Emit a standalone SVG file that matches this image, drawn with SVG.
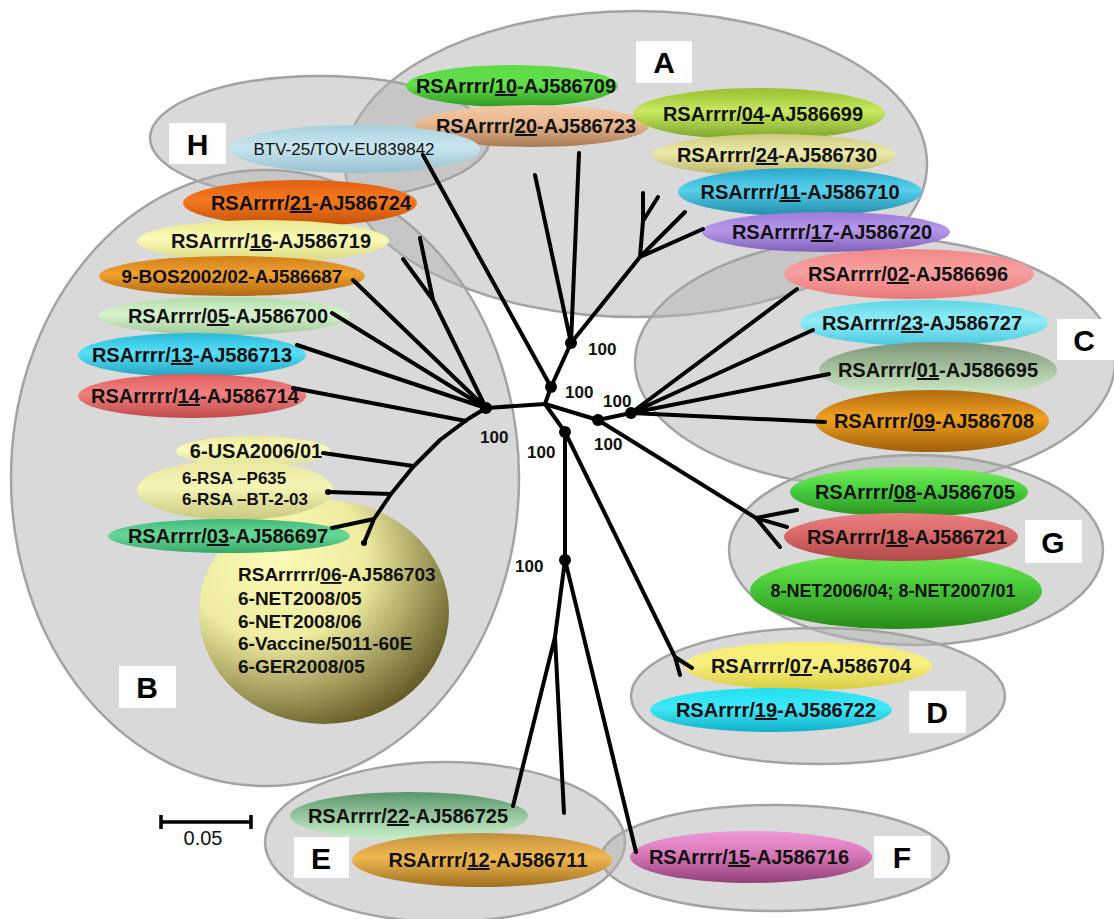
<svg xmlns="http://www.w3.org/2000/svg" width="1114" height="919" viewBox="0 0 1114 919">
<style>
.cl{fill:#b3b3b3;fill-opacity:.5;stroke:#a3a3a3;stroke-width:2.5}
.bx{fill:#fff}
.lt{font-family:"Liberation Sans",Arial,sans-serif;font-weight:bold;font-size:30px;text-anchor:middle;fill:#000}
.t{font-family:"Liberation Sans",Arial,sans-serif;font-weight:bold;font-size:20px;text-anchor:middle;fill:#111}
.tl{text-anchor:start}
.u{text-decoration:underline}
.br{fill:none;stroke:#000;stroke-width:4;stroke-linecap:round;stroke-linejoin:round}
.bs{font-family:"Liberation Sans",Arial,sans-serif;font-weight:bold;font-size:17px;fill:#111}
.sc{font-family:"Liberation Sans",Arial,sans-serif;font-size:20px;text-anchor:middle;fill:#111}
</style>
<defs>
<linearGradient id="g10" x1="0" y1="0" x2="0" y2="1"><stop offset="0" stop-color="#5fd848"/><stop offset=".45" stop-color="#62e04a"/><stop offset="1" stop-color="#2f9a22"/></linearGradient>
<linearGradient id="g20" x1="0" y1="0" x2="0" y2="1"><stop offset="0" stop-color="#f2c8a4"/><stop offset=".45" stop-color="#e8b890"/><stop offset="1" stop-color="#a87850"/></linearGradient>
<linearGradient id="g04" x1="0" y1="0" x2="0" y2="1"><stop offset="0" stop-color="#98c030"/><stop offset=".45" stop-color="#c8e860"/><stop offset="1" stop-color="#7aa028"/></linearGradient>
<linearGradient id="g24" x1="0" y1="0" x2="0" y2="1"><stop offset="0" stop-color="#cfca80"/><stop offset=".45" stop-color="#ecebaa"/><stop offset="1" stop-color="#b8b068"/></linearGradient>
<linearGradient id="g11" x1="0" y1="0" x2="0" y2="1"><stop offset="0" stop-color="#2aa8cc"/><stop offset=".45" stop-color="#58d0ec"/><stop offset="1" stop-color="#1f8aa8"/></linearGradient>
<linearGradient id="g17" x1="0" y1="0" x2="0" y2="1"><stop offset="0" stop-color="#9c7cd8"/><stop offset=".45" stop-color="#b898ec"/><stop offset="1" stop-color="#8060b8"/></linearGradient>
<linearGradient id="gbt" x1="0" y1="0" x2="0" y2="1"><stop offset="0" stop-color="#a8d0e0"/><stop offset=".45" stop-color="#c8e6ef"/><stop offset="1" stop-color="#98c0d0"/></linearGradient>
<linearGradient id="g21" x1="0" y1="0" x2="0" y2="1"><stop offset="0" stop-color="#e06010"/><stop offset=".45" stop-color="#f47820"/><stop offset="1" stop-color="#c05008"/></linearGradient>
<linearGradient id="g16" x1="0" y1="0" x2="0" y2="1"><stop offset="0" stop-color="#e8e890"/><stop offset=".45" stop-color="#fafab8"/><stop offset="1" stop-color="#d8d880"/></linearGradient>
<linearGradient id="g9" x1="0" y1="0" x2="0" y2="1"><stop offset="0" stop-color="#d08018"/><stop offset=".45" stop-color="#f0a030"/><stop offset="1" stop-color="#b06810"/></linearGradient>
<linearGradient id="g05" x1="0" y1="0" x2="0" y2="1"><stop offset="0" stop-color="#b0dca8"/><stop offset=".45" stop-color="#d8f4d0"/><stop offset="1" stop-color="#a0c898"/></linearGradient>
<linearGradient id="g13" x1="0" y1="0" x2="0" y2="1"><stop offset="0" stop-color="#28b8d8"/><stop offset=".45" stop-color="#58e0f8"/><stop offset="1" stop-color="#20a0c0"/></linearGradient>
<linearGradient id="g14" x1="0" y1="0" x2="0" y2="1"><stop offset="0" stop-color="#e06060"/><stop offset=".45" stop-color="#f08080"/><stop offset="1" stop-color="#c04848"/></linearGradient>
<linearGradient id="gus" x1="0" y1="0" x2="0" y2="1"><stop offset="0" stop-color="#ecec98"/><stop offset=".45" stop-color="#fafabc"/><stop offset="1" stop-color="#e0e090"/></linearGradient>
<linearGradient id="grs" x1="0" y1="0" x2="0" y2="1"><stop offset="0" stop-color="#e8e8a0"/><stop offset=".45" stop-color="#f4f4b4"/><stop offset="1" stop-color="#c8c880"/></linearGradient>
<linearGradient id="g03" x1="0" y1="0" x2="0" y2="1"><stop offset="0" stop-color="#40b878"/><stop offset=".45" stop-color="#68d898"/><stop offset="1" stop-color="#38a868"/></linearGradient>
<linearGradient id="g02" x1="0" y1="0" x2="0" y2="1"><stop offset="0" stop-color="#f08888"/><stop offset=".45" stop-color="#f8a0a0"/><stop offset="1" stop-color="#e87878"/></linearGradient>
<linearGradient id="g23" x1="0" y1="0" x2="0" y2="1"><stop offset="0" stop-color="#60d8e8"/><stop offset=".45" stop-color="#90ecf4"/><stop offset="1" stop-color="#48c8e0"/></linearGradient>
<linearGradient id="g01" x1="0" y1="0" x2="0" y2="1"><stop offset="0" stop-color="#7e9478"/><stop offset=".5" stop-color="#a8c4a0"/><stop offset="1" stop-color="#d0ecc8"/></linearGradient>
<linearGradient id="g09" x1="0" y1="0" x2="0" y2="1"><stop offset="0" stop-color="#b06a10"/><stop offset=".45" stop-color="#f0a020"/><stop offset="1" stop-color="#a06008"/></linearGradient>
<linearGradient id="g08" x1="0" y1="0" x2="0" y2="1"><stop offset="0" stop-color="#78f058"/><stop offset=".45" stop-color="#48d040"/><stop offset="1" stop-color="#2a9020"/></linearGradient>
<linearGradient id="g18" x1="0" y1="0" x2="0" y2="1"><stop offset="0" stop-color="#e88080"/><stop offset=".45" stop-color="#d86868"/><stop offset="1" stop-color="#b04848"/></linearGradient>
<linearGradient id="gnt" x1="0" y1="0" x2="0" y2="1"><stop offset="0" stop-color="#70e850"/><stop offset=".45" stop-color="#48c838"/><stop offset="1" stop-color="#2a8a18"/></linearGradient>
<linearGradient id="g07" x1="0" y1="0" x2="0" y2="1"><stop offset="0" stop-color="#f4ec70"/><stop offset=".45" stop-color="#f8f080"/><stop offset="1" stop-color="#d8cc40"/></linearGradient>
<linearGradient id="g19" x1="0" y1="0" x2="0" y2="1"><stop offset="0" stop-color="#20e0f0"/><stop offset=".45" stop-color="#40e8f8"/><stop offset="1" stop-color="#10b0c8"/></linearGradient>
<linearGradient id="g22" x1="0" y1="0" x2="0" y2="1"><stop offset="0" stop-color="#5a9468"/><stop offset=".5" stop-color="#98c8a0"/><stop offset="1" stop-color="#c8f0c8"/></linearGradient>
<linearGradient id="g12" x1="0" y1="0" x2="0" y2="1"><stop offset="0" stop-color="#c09040"/><stop offset=".45" stop-color="#f0b850"/><stop offset="1" stop-color="#a07020"/></linearGradient>
<linearGradient id="g15" x1="0" y1="0" x2="0" y2="1"><stop offset="0" stop-color="#f098d8"/><stop offset=".45" stop-color="#d878b8"/><stop offset="1" stop-color="#904078"/></linearGradient>
<radialGradient id="g06" cx=".32" cy=".28" r=".8" fx=".3" fy=".25"><stop offset="0" stop-color="#fbfbb8"/><stop offset=".45" stop-color="#eeeca0"/><stop offset="1" stop-color="#5e5520"/></radialGradient>
</defs>

<g id="clusters">
<g id="cluster-A"><ellipse class="cl" cx="636" cy="164" rx="291" ry="153"/><rect class="bx" x="636" y="41" width="56" height="42"/><text class="lt" x="664" y="73">A</text></g>
<g id="cluster-H"><ellipse class="cl" cx="320" cy="138" rx="170" ry="62"/><rect class="bx" x="169" y="123" width="57" height="41"/><text class="lt" x="197.5" y="155">H</text></g>
<g id="cluster-B"><ellipse class="cl" cx="265" cy="478" rx="254" ry="308"/><rect class="bx" x="119" y="666" width="57" height="42"/><text class="lt" x="147" y="698">B</text></g>
<g id="cluster-C"><ellipse class="cl" cx="875" cy="362" rx="240" ry="125"/><rect class="bx" x="1057" y="319" width="57" height="41"/><text class="lt" x="1084" y="351">C</text></g>
<g id="cluster-G"><ellipse class="cl" cx="916" cy="550" rx="187" ry="95"/><rect class="bx" x="1025" y="520" width="57" height="43"/><text class="lt" x="1053" y="553">G</text></g>
<g id="cluster-D"><ellipse class="cl" cx="818" cy="696" rx="187" ry="68"/><rect class="bx" x="909" y="691" width="57" height="42"/><text class="lt" x="937" y="723">D</text></g>
<g id="cluster-E"><ellipse class="cl" cx="445" cy="842" rx="180" ry="80"/><rect class="bx" x="294" y="837" width="55" height="41"/><text class="lt" x="321" y="869">E</text></g>
<g id="cluster-F"><ellipse class="cl" cx="775" cy="858" rx="174" ry="53"/><rect class="bx" x="874" y="836" width="57" height="42"/><text class="lt" x="902" y="868">F</text></g>
</g>

<g id="leaves">
<g id="n10"><ellipse cx="512" cy="86" rx="106" ry="21" fill="url(#g10)"/><text class="t" x="516" y="93">RSArrrr/<tspan class="u">10</tspan>-AJ586709</text></g>
<g id="n20"><ellipse cx="532" cy="126" rx="117" ry="21" fill="url(#g20)"/><text class="t" x="536" y="133">RSArrrr/<tspan class="u">20</tspan>-AJ586723</text></g>
<g id="n04"><ellipse cx="759" cy="114" rx="126" ry="26" fill="url(#g04)"/><text class="t" x="763" y="121">RSArrrr/<tspan class="u">04</tspan>-AJ586699</text></g>
<g id="n24"><ellipse cx="774" cy="155" rx="122" ry="21" fill="url(#g24)"/><text class="t" x="777" y="162">RSArrrr/<tspan class="u">24</tspan>-AJ586730</text></g>
<g id="n11"><ellipse cx="800" cy="192" rx="122" ry="24" fill="url(#g11)"/><text class="t" x="800" y="199">RSArrrr/<tspan class="u">11</tspan>-AJ586710</text></g>
<g id="n17"><ellipse cx="826" cy="232" rx="124" ry="20" fill="url(#g17)"/><text class="t" x="832" y="239">RSArrrr/<tspan class="u">17</tspan>-AJ586720</text></g>
<g id="nBTV"><ellipse cx="355" cy="149" rx="125" ry="24" fill="url(#gbt)"/><text class="t" x="344" y="155" style="font-weight:normal;font-size:17px">BTV-25/TOV-EU839842</text></g>
<g id="n21"><ellipse cx="300" cy="203" rx="117" ry="23" fill="url(#g21)"/><text class="t" x="311" y="210">RSArrrr/<tspan class="u">21</tspan>-AJ586724</text></g>
<g id="n16"><ellipse cx="263" cy="241" rx="126" ry="21" fill="url(#g16)"/><text class="t" x="271" y="248">RSArrrr/<tspan class="u">16</tspan>-AJ586719</text></g>
<g id="n9BOS"><ellipse cx="232" cy="276" rx="133" ry="20" fill="url(#g9)"/><text class="t" x="232" y="283" style="font-size:19px">9-BOS2002/02-AJ586687</text></g>
<g id="n05"><ellipse cx="224" cy="316" rx="126" ry="19" fill="url(#g05)"/><text class="t" x="228" y="323">RSArrrr/<tspan class="u">05</tspan>-AJ586700</text></g>
<g id="n13"><ellipse cx="192" cy="355" rx="114" ry="22" fill="url(#g13)"/><text class="t" x="192" y="362">RSArrrr/<tspan class="u">13</tspan>-AJ586713</text></g>
<g id="n14"><ellipse cx="192" cy="396" rx="114" ry="22" fill="url(#g14)"/><text class="t" x="195" y="403">RSArrrrr/<tspan class="u">14</tspan>-AJ586714</text></g>
<g id="n06"><ellipse cx="324" cy="612" rx="125" ry="112" fill="url(#g06)"/><text class="t tl" x="238" y="581" style="font-size:19px">RSArrrrr/<tspan class="u">06</tspan>-AJ586703</text><text class="t tl" x="238" y="605" style="font-size:19px">6-NET2008/05</text><text class="t tl" x="238" y="628" style="font-size:19px">6-NET2008/06</text><text class="t tl" x="238" y="650" style="font-size:19px">6-Vaccine/5011-60E</text><text class="t tl" x="238" y="673" style="font-size:19px">6-GER2008/05</text></g>
<g id="nUSA"><ellipse cx="253" cy="451" rx="77" ry="15" fill="url(#gus)"/><text class="t" x="256" y="458">6-USA2006/01</text></g>
<g id="nRSA"><ellipse cx="235" cy="490" rx="98" ry="30" fill="url(#grs)"/><text class="t tl" x="182" y="484" style="font-size:17px">6-RSA –P635</text><text class="t tl" x="182" y="505" style="font-size:17px">6-RSA –BT-2-03</text></g>
<g id="n03"><ellipse cx="229" cy="536" rx="121" ry="17" fill="url(#g03)"/><text class="t" x="228" y="543">RSArrrr/<tspan class="u">03</tspan>-AJ586697</text></g>
<g id="n02"><ellipse cx="909" cy="274" rx="125" ry="25" fill="url(#g02)"/><text class="t" x="908" y="281">RSArrrr/<tspan class="u">02</tspan>-AJ586696</text></g>
<g id="n23"><ellipse cx="924" cy="323" rx="124" ry="23" fill="url(#g23)"/><text class="t" x="922" y="330">RSArrrr/<tspan class="u">23</tspan>-AJ586727</text></g>
<g id="n01"><ellipse cx="938" cy="370" rx="119" ry="28" fill="url(#g01)"/><text class="t" x="938" y="377">RSArrrr/<tspan class="u">01</tspan>-AJ586695</text></g>
<g id="n09"><ellipse cx="932" cy="421" rx="117" ry="31" fill="url(#g09)"/><text class="t" x="934" y="428">RSArrrr/<tspan class="u">09</tspan>-AJ586708</text></g>
<g id="nNET"><ellipse cx="896" cy="591" rx="146" ry="38" fill="url(#gnt)"/><text class="t" x="893" y="597" style="font-size:18px">8-NET2006/04; 8-NET2007/01</text></g>
<g id="n08"><ellipse cx="909" cy="492" rx="119" ry="25" fill="url(#g08)"/><text class="t" x="915" y="499">RSArrrr/<tspan class="u">08</tspan>-AJ586705</text></g>
<g id="n18"><ellipse cx="901" cy="537" rx="117" ry="24" fill="url(#g18)"/><text class="t" x="907" y="544">RSArrrr/<tspan class="u">18</tspan>-AJ586721</text></g>
<g id="n07"><ellipse cx="808" cy="666" rx="124" ry="24" fill="url(#g07)"/><text class="t" x="811" y="673">RSArrrr/<tspan class="u">07</tspan>-AJ586704</text></g>
<g id="n19"><ellipse cx="771" cy="710" rx="121" ry="22" fill="url(#g19)"/><text class="t" x="776" y="717">RSArrrr/<tspan class="u">19</tspan>-AJ586722</text></g>
<g id="n22"><ellipse cx="409" cy="816" rx="119" ry="24" fill="url(#g22)"/><text class="t" x="408" y="823">RSArrrr/<tspan class="u">22</tspan>-AJ586725</text></g>
<g id="n12"><ellipse cx="482" cy="860" rx="130" ry="27" fill="url(#g12)"/><text class="t" x="488" y="867">RSArrrr/<tspan class="u">12</tspan>-AJ586711</text></g>
<g id="n15"><ellipse cx="751" cy="857" rx="121" ry="26" fill="url(#g15)"/><text class="t" x="749" y="864">RSArrrr/<tspan class="u">15</tspan>-AJ586716</text></g>
</g>

<g id="connectors">
<path class="br" d="M545,404 L486,408 M545,404 L551,387 L571,343 M551,387 L423,155 M571,343 L535,175 M571,343 L579,153 M571,343 L640,257 L703,229 M640,257 L685,212 M640,257 L643,221 L643,193 M643,221 L658,197"/>
<path class="br" d="M545,404 L598,420 L631,413 M631,413 L797,289 M631,413 L813,330 M631,413 L829,374 M631,413 L825,422 M598,420 L756,518 L797,510 M756,518 L787,527 M756,518 L780,547"/>
<path class="br" d="M545,404 L565,432 L565,560 M565,432 L675,657 L680,675 M675,657 L692,668 M565,560 L555,637 L513,806 M555,637 L564,813 M565,560 L636,852"/>
<path class="br" d="M486,408 L353,280 M486,408 L433,300 L420,238 M433,300 L403,259 M486,408 L332,313 M486,408 L297,345 M466,421 L293,388 M486,408 L468,419 L440,440 L413,467 L391,494 L374,519 L364,543 M413,466 L323,453 M391,494 L328,492 M374,519 L332,528"/>
<g fill="#000">
<circle cx="551" cy="387" r="6"/><circle cx="571" cy="343" r="6"/><circle cx="486" cy="408" r="6"/><circle cx="598" cy="420" r="6"/><circle cx="631" cy="413" r="6"/><circle cx="565" cy="432" r="6"/><circle cx="565" cy="560" r="6"/><circle cx="328" cy="492" r="3"/><circle cx="364" cy="543" r="3"/>
</g>
<text class="bs" x="565" y="398">100</text>
<text class="bs" x="588" y="355">100</text>
<text class="bs" x="480" y="443">100</text>
<text class="bs" x="594" y="450">100</text>
<text class="bs" x="603" y="407">100</text>
<text class="bs" x="527" y="458">100</text>
<text class="bs" x="515" y="572">100</text>
</g>

<g id="scale">
<path class="br" d="M161,822 L251,822 M161,815 L161,829 M251,815 L251,829" style="stroke-width:3.5;stroke-linecap:butt"/>
<text class="sc" x="203" y="845">0.05</text>
</g>
</svg>
